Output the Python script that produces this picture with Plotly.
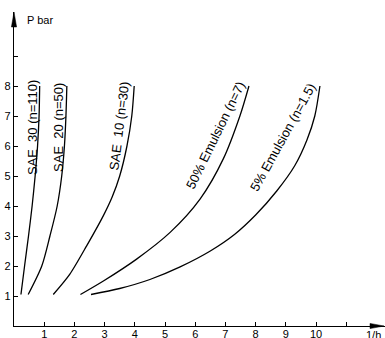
import plotly.graph_objects as go

# curves: pressure P (bar) against 1/h
sae30_x = [0.23, 0.35, 0.48, 0.60, 0.70, 0.78, 0.83, 0.85]
sae30_p = [1.05, 2, 3, 4, 5, 6, 7, 8]

sae20_x = [0.47, 0.92, 1.19, 1.43, 1.58, 1.67, 1.72, 1.75]
sae20_p = [1.05, 2, 3, 4, 5, 6, 7, 8]

sae10_x = [1.30, 1.85, 2.41, 2.96, 3.25, 3.50, 3.74, 3.90, 3.98]
sae10_p = [1.05, 1.73, 2.68, 3.68, 4.30, 5.00, 6, 7, 8]

emul50_x = [2.20, 2.96, 4.06, 5.17, 6.16, 6.93, 7.48, 7.78]
emul50_p = [1.05, 1.50, 2.23, 3.12, 4.23, 5.57, 7, 8]

emul5_x = [2.55, 3.50, 4.50, 5.50, 6.50, 7.30, 8.00, 8.70, 9.30, 9.70, 9.96, 10.13]
emul5_p = [1.05, 1.25, 1.55, 1.97, 2.50, 3.05, 3.70, 4.50, 5.35, 6.20, 7.0, 8.0]

curve_labels = ['SAE  30 (n=110)', 'SAE  20 (n=50)', 'SAE  10 (n=30)',
                '50% Emulsion (n=7)', '5% Emulsion (n=1.5)']
label_x = [0.62, 1.45, 3.50, 6.67, 8.89]
label_p = [6.62, 6.63, 6.67, 6.35, 6.30]
label_angle = [-90, -90, -83, -64, -61]

x_ticks = list(range(1, 12))
x_ticktext = [str(v) for v in range(1, 11)] + ['']
y_ticks = list(range(1, 10))
y_ticktext = [str(v) for v in range(1, 9)] + ['']

FONT = 'Liberation Sans'

fig = go.Figure()

for xs, ps in [(sae30_x, sae30_p), (sae20_x, sae20_p), (sae10_x, sae10_p),
               (emul50_x, emul50_p), (emul5_x, emul5_p)]:
    fig.add_trace(go.Scatter(
        x=xs, y=ps, mode='lines',
        line=dict(color='black', width=1.3, shape='spline', smoothing=0.8),
        showlegend=False, hoverinfo='skip',
    ))

for txt, lx, lp, ang in zip(curve_labels, label_x, label_p, label_angle):
    fig.add_annotation(
        x=lx, y=lp, text=txt, showarrow=False, textangle=ang,
        xanchor='center', yanchor='middle',
        font=dict(family=FONT, size=13, color='black'),
    )

# axis titles
fig.add_annotation(x=0, y=1, xref='paper', yref='paper', text='P bar',
                   showarrow=False, xanchor='left', yanchor='middle',
                   xshift=11, yshift=-8,
                   font=dict(family=FONT, size=11, color='black'))
fig.add_annotation(x=1, y=0, xref='paper', yref='paper', text='1/h',
                   showarrow=False, xanchor='right', yanchor='top',
                   xshift=-2, yshift=-1,
                   font=dict(family=FONT, size=11, color='black'))

# arrowheads at the axis ends
fig.add_shape(type='path', xref='paper', yref='paper',
              xsizemode='pixel', ysizemode='pixel', xanchor=0, yanchor=1,
              path='M 0 0 L -2.6 -15 L 2.6 -15 Z',
              fillcolor='black', line=dict(color='black', width=0.5))
fig.add_shape(type='path', xref='paper', yref='paper',
              xsizemode='pixel', ysizemode='pixel', xanchor=1, yanchor=0,
              path='M -1 0 L -15 2.6 L -15 -2.6 Z',
              fillcolor='black', line=dict(color='black', width=0.5))

axis_common = dict(
    showgrid=False, zeroline=False, showline=True, automargin=False,
    linecolor='black', linewidth=1.4,
    ticks='inside', ticklen=4, tickwidth=1, tickcolor='black',
    tickfont=dict(family=FONT, size=11, color='black'),
)

fig.update_layout(
    width=385, height=338,
    margin=dict(l=14, r=0, t=12, b=12),
    paper_bgcolor='white', plot_bgcolor='white',
    xaxis=dict(range=[0, 371 / 30.2], tickvals=x_ticks, ticktext=x_ticktext,
               ticklabelstandoff=-2, **axis_common),
    yaxis=dict(range=[0, 314 / 30.0], tickvals=y_ticks, ticktext=y_ticktext,
               **axis_common),
)

# the page's default body margin would push the figure 8px off the window
fig.write_html('out.html',
               config={'displayModeBar': False},
               post_script="document.body.style.margin='0';document.body.style.overflow='hidden';")
